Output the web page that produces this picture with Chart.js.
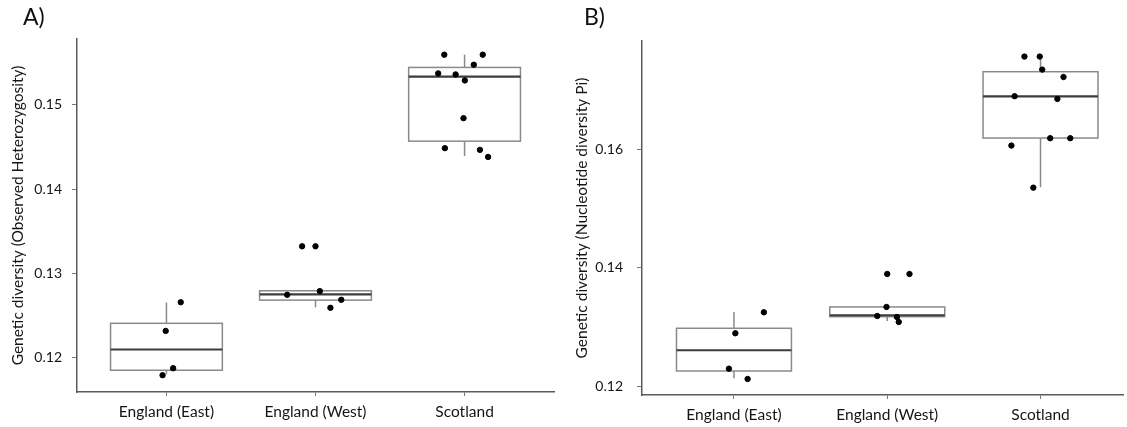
<!DOCTYPE html>
<html lang="en">
<head>
    <meta charset="UTF-8">
    <title>Genetic diversity</title>
    <script src="https://cdn.jsdelivr.net/npm/chart.js@4.4.0/dist/chart.umd.min.js"></script>
    <style>
        body { margin: 0; background: #fff; font-family: Lato, sans-serif; }
        .panel { position: absolute; top: 0; height: 427px; }
        .tag { position: absolute; top: 2px; font-size: 23px; color: #111; }
    </style>
</head>
<body>
<div class="panel" style="left:0;width:560px"><canvas id="hoChart"></canvas></div>
<div class="panel" style="left:560px;width:567px"><canvas id="piChart"></canvas></div>
<div class="tag" style="left:23px">A)</div>
<div class="tag" style="left:584px">B)</div>
<script>
    const categories = ['England (East)', 'England (West)', 'Scotland'];

    // A) observed heterozygosity, one array per population plus horizontal jitter
    const hoEast = [0.1266, 0.1232, 0.11878, 0.11795];
    const hoEastJitter = [0.096, -0.005, 0.045, -0.026];
    const hoWest = [0.13323, 0.13323, 0.12748, 0.12792, 0.12689, 0.12594];
    const hoWestJitter = [-0.09, 0.0, -0.19, 0.029, 0.173, 0.1];
    const hoScot = [0.15594, 0.15594, 0.15475, 0.15372, 0.1536, 0.15289, 0.14842, 0.14486, 0.14466, 0.14382];
    const hoScotJitter = [-0.136, 0.122, 0.062, -0.177, -0.06, 0.002, -0.007, -0.132, 0.103, 0.158];
    const hoQ1 = [0.11854, 0.12685, 0.14569];
    const hoMedian = [0.1210, 0.12753, 0.15333];
    const hoQ3 = [0.1241, 0.12796, 0.15443];
    const hoLow = [0.11806, 0.12599, 0.14394];
    const hoHigh = [0.12658, 0.12796, 0.15594];
    const hoTicks = [0.12, 0.13, 0.14, 0.15];

    // B) nucleotide diversity Pi
    const piEast = [0.13252, 0.12899, 0.12303, 0.1213];
    const piEastJitter = [0.195, 0.009, -0.033, 0.089];
    const piWest = [0.13897, 0.13897, 0.13342, 0.1319, 0.13173, 0.13089];
    const piWestJitter = [0.0, 0.145, -0.005, -0.065, 0.063, 0.075];
    const piScot = [0.17556, 0.17556, 0.17337, 0.17212, 0.16889, 0.16843, 0.16182, 0.16182, 0.16058, 0.1535];
    const piScotJitter = [-0.105, -0.005, 0.011, 0.15, -0.169, 0.11, 0.063, 0.194, -0.19, -0.047];
    const piQ1 = [0.12264, 0.13178, 0.16185];
    const piMedian = [0.12613, 0.13202, 0.16887];
    const piQ3 = [0.12983, 0.13342, 0.17301];
    const piLow = [0.12141, 0.13106, 0.15355];
    const piHigh = [0.13258, 0.13342, 0.17556];
    const piTicks = [0.12, 0.14, 0.16];

    const BOX_WIDTH = 0.75;
    const FONT = 'Lato, sans-serif';

    // draws the box, median and whisker for every group under the points
    const boxPlugin = {
        id: 'boxes',
        beforeDatasetsDraw(chart, args, opts) {
            const { ctx, scales: { x, y } } = chart;
            ctx.save();
            opts.q1.forEach((q1, i) => {
                const left = x.getPixelForValue(i - BOX_WIDTH / 2);
                const right = x.getPixelForValue(i + BOX_WIDTH / 2);
                const mid = x.getPixelForValue(i);
                const top = y.getPixelForValue(opts.q3[i]);
                const bottom = y.getPixelForValue(q1);
                ctx.strokeStyle = '#8a8a8a';
                ctx.lineWidth = 1.5;
                ctx.beginPath();
                ctx.moveTo(mid, y.getPixelForValue(opts.high[i]));
                ctx.lineTo(mid, top);
                ctx.moveTo(mid, bottom);
                ctx.lineTo(mid, y.getPixelForValue(opts.low[i]));
                ctx.stroke();
                ctx.strokeRect(left, top, right - left, bottom - top);
                const m = y.getPixelForValue(opts.median[i]);
                ctx.strokeStyle = '#3c3c3c';
                ctx.lineWidth = 2.2;
                ctx.beginPath();
                ctx.moveTo(left, m);
                ctx.lineTo(right, m);
                ctx.stroke();
            });
            ctx.restore();
        }
    };

    const toPoints = (values, jitter, i) => values.map((v, j) => ({ x: i + jitter[j], y: v }));

    function makeChart(id, groups, box, ticks, range, xMax, title, layout) {
        return new Chart(document.getElementById(id), {
            type: 'scatter',
            data: {
                datasets: groups.map((g, i) => ({
                    data: toPoints(g[0], g[1], i),
                    backgroundColor: '#000',
                    borderColor: '#000',
                    pointRadius: 2.7,
                    pointHoverRadius: 2.7
                }))
            },
            options: {
                animation: false,
                responsive: true,
                maintainAspectRatio: false,
                events: [],
                layout: { padding: layout.padding },
                plugins: { legend: { display: false }, tooltip: { enabled: false }, boxes: box },
                scales: {
                    x: {
                        type: 'linear',
                        min: -0.6,
                        max: xMax,
                        afterBuildTicks: s => { s.ticks = categories.map((c, i) => ({ value: i })); },
                        afterFit: s => { s.height = layout.xHeight; },
                        ticks: {
                            callback: v => categories[v],
                            color: '#151515',
                            font: { family: FONT, size: 15.5 },
                            padding: 7,
                            maxRotation: 0
                        },
                        grid: { drawOnChartArea: false, tickLength: 4, color: '#777', tickWidth: 1 },
                        border: { color: '#5a5a5a', width: 1.5 }
                    },
                    y: {
                        min: range[0],
                        max: range[1],
                        afterBuildTicks: s => { s.ticks = ticks.map(v => ({ value: v })); },
                        afterFit: s => { s.width = layout.yWidth; },
                        ticks: {
                            callback: v => v.toFixed(2),
                            color: '#151515',
                            font: { family: FONT, size: 14 },
                            padding: layout.tickPad
                        },
                        grid: { drawOnChartArea: false, tickLength: 5, color: '#777', tickWidth: 1 },
                        border: { color: '#5a5a5a', width: 1.5 },
                        title: {
                            display: true,
                            text: title,
                            color: '#151515',
                            font: { family: FONT, size: 15.5 },
                            padding: { top: layout.titlePad, bottom: 0 }
                        }
                    }
                }
            },
            plugins: [boxPlugin]
        });
    }

    makeChart('hoChart',
        [[hoEast, hoEastJitter], [hoWest, hoWestJitter], [hoScot, hoScotJitter]],
        { q1: hoQ1, median: hoMedian, q3: hoQ3, low: hoLow, high: hoHigh },
        hoTicks, [0.11596, 0.1578], 2.6,
        'Genetic diversity (Observed Heterozygosity)',
        { padding: { top: 39, right: 6, left: 0, bottom: 0 }, xHeight: 35, yWidth: 77, tickPad: 10, titlePad: 9 });

    makeChart('piChart',
        [[piEast, piEastJitter], [piWest, piWestJitter], [piScot, piScotJitter]],
        { q1: piQ1, median: piMedian, q3: piQ3, low: piLow, high: piHigh },
        piTicks, [0.1186, 0.17818], 2.54,
        'Genetic diversity (Nucleotide diversity Pi)',
        { padding: { top: 41, right: 0, left: 0, bottom: 0 }, xHeight: 32, yWidth: 82, tickPad: 14, titlePad: 13 });
</script>
</body>
</html>
